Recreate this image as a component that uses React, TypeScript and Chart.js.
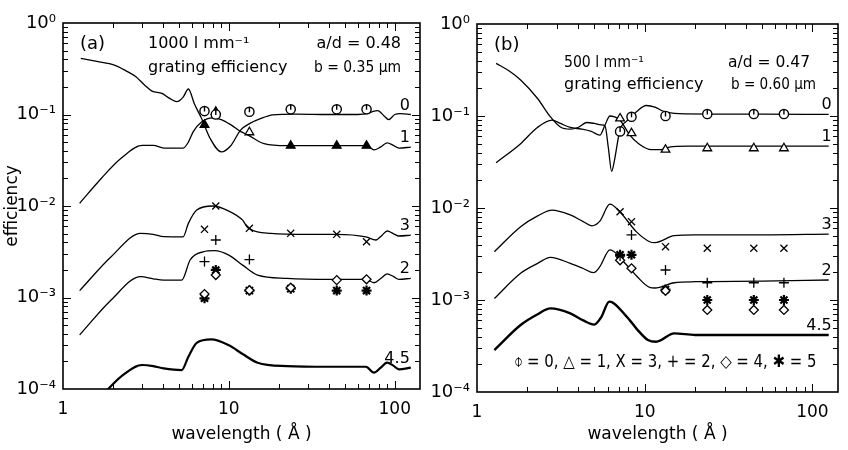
import React, { useEffect, useRef } from 'react';
import { Chart, registerables } from 'chart.js';

Chart.register(...registerables);

const FONT = "'DejaVu Sans', 'Liberation Sans', sans-serif";

// ---------- shared axis data ----------
const xTickValues = [1, 10, 100];
const xTickLabels = ['1', '10', '100'];
const yTickValues = [1e-4, 1e-3, 1e-2, 1e-1, 1];
const yTickLabels = ['10⁻⁴', '10⁻³', '10⁻²', '10⁻¹', '10⁰'];
const xTitle = 'wavelength ( Å )';
const yTitle = 'efficiency';

// wavelengths (Å) of the measured X-ray lines
const lineWavelengths = [7.13, 8.34, 13.3, 23.6, 44.7, 67.6];
const curveLabels = ['0', '1', '3', '2', '4.5'];

// ---------- panel (a): 1000 l/mm ----------
const aHeaderTexts = ['(a)', '1000 l mm⁻¹', 'a/d = 0.48', 'grating efficiency', 'b = 0.35 μm'];

const a0Lam = [1.28, 1.6, 2.04, 2.4, 2.74, 3.1, 3.44, 3.95, 4.4, 4.86, 5.3, 5.7, 6.2, 6.84, 7.7, 9.0, 10.2, 11.8, 13.4, 15.5, 18.4, 25, 40, 60, 68, 74, 79, 86, 92, 100, 108, 125];
const a0Eff = [0.41, 0.38, 0.347, 0.3, 0.26, 0.21, 0.18, 0.17, 0.15, 0.138, 0.155, 0.19, 0.13, 0.091, 0.055, 0.039, 0.045, 0.068, 0.08, 0.09, 0.099, 0.101, 0.1, 0.1, 0.102, 0.108, 0.11, 0.097, 0.088, 0.1, 0.102, 0.1];
const a1Lam = [1.26, 1.7, 2.23, 3.0, 3.5, 4.05, 5.3, 5.7, 6.1, 6.84, 8.0, 9.0, 10.3, 11.8, 13, 16.3, 22.4, 40, 68, 75, 82, 90, 98, 106, 125];
const a1Eff = [0.0107, 0.02, 0.033, 0.046, 0.046, 0.043, 0.043, 0.05, 0.065, 0.083, 0.092, 0.088, 0.077, 0.065, 0.06, 0.048, 0.0456, 0.0456, 0.0456, 0.041, 0.044, 0.049, 0.046, 0.043, 0.044];
const a3Lam = [1.26, 1.95, 2.94, 3.5, 4.05, 5.3, 5.7, 6.4, 8.0, 10, 12.1, 13, 17.9, 30, 44.5, 67, 77, 84, 90, 98, 106, 125];
const a3Eff = [0.00119, 0.00279, 0.00503, 0.0049, 0.00462, 0.0046, 0.00646, 0.00904, 0.01, 0.0088, 0.0070, 0.0058, 0.00503, 0.0049, 0.0049, 0.0046, 0.00425, 0.0048, 0.00533, 0.005, 0.0047, 0.0048];
const a2Lam = [1.26, 1.95, 2.94, 3.5, 4.05, 5.2, 5.84, 7.0, 8.2, 10, 12.1, 14.9, 22.4, 40, 67, 75, 82, 90, 98, 106, 125];
const a2Eff = [0.00039, 0.00094, 0.00169, 0.0016, 0.00155, 0.00155, 0.00257, 0.00316, 0.00325, 0.0029, 0.00226, 0.00176, 0.00162, 0.00158, 0.00158, 0.00145, 0.0016, 0.00181, 0.0017, 0.00158, 0.00162];
const a45Lam = [1.75, 2.23, 3.0, 3.5, 4.05, 5.2, 5.7, 6.4, 7.85, 10, 12.1, 14.9, 22.4, 40, 67, 75, 82, 90, 98, 106, 125];
const a45Eff = [0.000088, 0.000136, 0.000183, 0.000178, 0.000168, 0.000161, 0.000225, 0.00032, 0.000349, 0.0003, 0.000241, 0.000194, 0.000178, 0.000175, 0.000175, 0.000151, 0.00017, 0.000194, 0.00018, 0.000164, 0.000171];

const aMeas0 = [0.109, 0.1, 0.107, 0.114, 0.114, 0.114];
const aMeas1 = [0.077, 0.107, 0.064, 0.0456, 0.0456, 0.0456];
const aMeas3 = [0.00556, 0.01, 0.0057, 0.00503, 0.0049, 0.00407];
const aMeas2 = [0.00247, 0.00425, 0.0026, null, null, null];
const aMeas4 = [0.00109, 0.00176, 0.0012, 0.00128, 0.00155, 0.00158];
const aMeas5 = [0.00098, 0.002, 0.00119, 0.00125, 0.00119, 0.00119];

// ---------- panel (b): 500 l/mm ----------
const bHeaderTexts = ['(b)', '500 l mm⁻¹', 'a/d = 0.47', 'grating efficiency', 'b = 0.60 μm'];
const bLegendText = '⌽ = 0, △ = 1, X = 3, + = 2, ◇ = 4, ✱ = 5';

const b0Lam = [1.3, 1.55, 1.82, 2.29, 2.74, 3.14, 3.6, 4.0, 4.5, 5.0, 5.5, 5.8, 6.07, 6.35, 6.6, 7.11, 7.8, 8.93, 10.2, 11.5, 13, 16, 25, 50, 125];
const b0Eff = [0.373, 0.31, 0.246, 0.156, 0.098, 0.076, 0.072, 0.075, 0.085, 0.083, 0.08, 0.078, 0.045, 0.025, 0.033, 0.07, 0.088, 0.111, 0.13, 0.125, 0.112, 0.106, 0.105, 0.105, 0.104];
const b1Lam = [1.3, 1.82, 2.29, 2.8, 3.14, 3.6, 4.2, 4.8, 5.4, 5.8, 6.2, 6.6, 7.13, 8.15, 9.2, 10.96, 12.5, 14, 18, 40, 125];
const b1Eff = [0.031, 0.05, 0.075, 0.09, 0.083, 0.075, 0.072, 0.068, 0.062, 0.08, 0.1, 0.098, 0.09, 0.062, 0.05, 0.043, 0.043, 0.046, 0.047, 0.047, 0.047];
const b3Lam = [1.27, 1.82, 2.3, 2.8, 3.6, 4.3, 4.84, 5.4, 6.2, 7.1, 8.93, 10.7, 11.5, 15, 20, 50, 125];
const b3Eff = [0.00335, 0.00626, 0.0082, 0.0095, 0.0084, 0.0071, 0.0064, 0.0072, 0.011, 0.0091, 0.0055, 0.0043, 0.0042, 0.005, 0.0051, 0.0051, 0.0052];
const b2Lam = [1.27, 1.82, 2.3, 2.74, 3.6, 4.3, 4.95, 5.4, 6.2, 7.8, 9.0, 10.7, 11.5, 15, 20, 50, 125];
const b2Eff = [0.00104, 0.00195, 0.0025, 0.00291, 0.0025, 0.0022, 0.00198, 0.0023, 0.0035, 0.0024, 0.0018, 0.00137, 0.00135, 0.00154, 0.00158, 0.0016, 0.00165];
const b45Lam = [1.27, 1.82, 2.3, 2.74, 3.6, 4.3, 5.0, 5.5, 6.15, 7.8, 9.0, 10.45, 11.7, 15, 20, 50, 125];
const b45Eff = [0.000286, 0.000535, 0.0007, 0.00081, 0.000716, 0.0006, 0.00054, 0.00065, 0.00096, 0.00066, 0.00048, 0.000367, 0.000352, 0.000434, 0.000417, 0.000417, 0.000417];

const bMeas0 = [0.068, 0.098, 0.1, 0.105, 0.105, 0.105];
const bMeas1 = [0.094, 0.065, 0.043, 0.0446, 0.0446, 0.0446];
const bMeas3 = [0.0091, 0.0071, 0.0038, 0.00365, 0.00365, 0.00365];
const bMeas2 = [0.003, 0.0051, 0.00212, 0.00154, 0.00154, 0.00154];
const bMeas4 = [0.0027, 0.00221, 0.00126, 0.00078, 0.00078, 0.00078];
const bMeas5 = [0.0031, 0.0031, 0.0013, 0.001, 0.001, 0.001];

// ---------- styles ----------
const aTriangleFill = ['#000', '#000', '#fff', '#000', '#000', '#000'];
const bTriangleFill = ['#fff', '#fff', '#fff', '#fff', '#fff', '#fff'];

type TextLayout = { dx: number; dy: number; from: 'left' | 'right'; align: CanvasTextAlign; size: number; w?: number };

const aHeaderLayout: TextLayout[] = [
  { dx: 17, dy: 21, from: 'left', align: 'left', size: 18 },
  { dx: 85, dy: 21, from: 'left', align: 'left', size: 16, w: 109 },
  { dx: -19, dy: 21, from: 'right', align: 'right', size: 16, w: 85 },
  { dx: 85, dy: 45, from: 'left', align: 'left', size: 16, w: 150 },
  { dx: -19, dy: 45, from: 'right', align: 'right', size: 16, w: 87 },
];
const bHeaderLayout: TextLayout[] = [
  { dx: 17, dy: 21, from: 'left', align: 'left', size: 18 },
  { dx: 87, dy: 39, from: 'left', align: 'left', size: 16, w: 80 },
  { dx: -28, dy: 39, from: 'right', align: 'right', size: 16, w: 82 },
  { dx: 87, dy: 61, from: 'left', align: 'left', size: 16, w: 150 },
  { dx: -22, dy: 61, from: 'right', align: 'right', size: 16, w: 85 },
];

function zip(lam: number[], eff: (number | null)[]) {
  return lam.map((x, i) => ({ x, y: eff[i] }));
}

function labelFor(vals: number[], labels: string[]) {
  return (v: any) => {
    const n = Number(v);
    const i = vals.findIndex((t) => Math.abs(Math.log10(t) - Math.log10(n)) < 1e-6);
    return i >= 0 ? labels[i] : '';
  };
}

type PanelDef = {
  curves: { lam: number[]; eff: number[]; label: string; width: number }[];
  meas: (number | null)[][];
  triFill: string[];
  header: string[];
  headerLayout: TextLayout[];
  legend?: string;
  padTop: number;
  padRight: number;
  yWidth: number;
  xHeight: number;
  showYTitle: boolean;
  labelDx: number;
};

function makeDecor(p: PanelDef) {
  return {
    id: 'decor',
    afterDraw(chart: any) {
      const { ctx, chartArea: ca, scales } = chart;
      const xs = scales.x;
      const ys = scales.y;
      ctx.save();
      ctx.strokeStyle = '#000';

      // stile inside the order-0 circle markers
      ctx.lineWidth = 1.4;
      ctx.beginPath();
      chart.data.datasets.forEach((ds: any, i: number) => {
        if (!ds.circleTick) return;
        chart.getDatasetMeta(i).data.forEach((pt: any) => {
          if (pt.skip || !isFinite(pt.y)) return;
          ctx.moveTo(pt.x, pt.y - 4.5);
          ctx.lineTo(pt.x, pt.y + 0.5);
        });
      });
      ctx.stroke();

      ctx.lineWidth = 1;
      ctx.beginPath();
      for (let e = 0; e <= 2; e++) {
        for (let m = 1; m <= 9; m++) {
          const v = m * Math.pow(10, e);
          if (v <= xs.min * 1.0001 || v >= xs.max) continue;
          const px = Math.round(xs.getPixelForValue(v)) + 0.5;
          const len = m === 1 ? 8 : 5;
          ctx.moveTo(px, ca.bottom);
          ctx.lineTo(px, ca.bottom - len);
          ctx.moveTo(px, ca.top);
          ctx.lineTo(px, ca.top + len);
        }
      }
      for (let e = -4; e < 0; e++) {
        for (let m = 1; m <= 9; m++) {
          const v = m * Math.pow(10, e);
          if (v <= ys.min * 1.0001 || v >= ys.max) continue;
          const py = Math.round(ys.getPixelForValue(v)) + 0.5;
          const len = m === 1 ? 8 : 5;
          ctx.moveTo(ca.left, py);
          ctx.lineTo(ca.left + len, py);
          ctx.moveTo(ca.right, py);
          ctx.lineTo(ca.right - len, py);
        }
      }
      ctx.stroke();
      ctx.lineWidth = 1.6;
      ctx.strokeRect(ca.left, ca.top, ca.right - ca.left, ca.bottom - ca.top);

      // header texts
      ctx.fillStyle = '#000';
      ctx.textBaseline = 'middle';
      p.header.forEach((t, i) => {
        const L = p.headerLayout[i];
        ctx.font = `${L.size}px ${FONT}`;
        ctx.textAlign = L.align;
        const x = (L.from === 'left' ? ca.left : ca.right) + L.dx;
        const y = ca.top + L.dy;
        if (L.w) ctx.fillText(t, x, y, L.w);
        else ctx.fillText(t, x, y);
      });

      // curve labels at the right-hand end of each curve
      ctx.font = `16px ${FONT}`;
      ctx.textAlign = 'right';
      ctx.textBaseline = 'alphabetic';
      chart.data.datasets.forEach((ds: any, i: number) => {
        if (!ds.curveLabel) return;
        const meta = chart.getDatasetMeta(i);
        const last = meta.data[meta.data.length - 1];
        if (!last) return;
        ctx.fillText(ds.curveLabel, last.x + p.labelDx, last.y - 5);
      });

      if (p.legend) {
        ctx.font = `17px ${FONT}`;
        ctx.textAlign = 'center';
        ctx.textBaseline = 'middle';
        ctx.fillText(p.legend, ca.left + 188, ca.top + 339, 303);
      }
      ctx.restore();
    },
  };
}

function buildConfig(p: PanelDef): any {
  const datasets: any[] = [];
  const markerStyles: any[] = [
    { style: 'circle', radius: 4.6, fill: '#fff', bw: 1.4, tick: true },
    { style: 'triangle', radius: 5, fill: p.triFill, bw: 1.3 },
    { style: 'crossRot', radius: 5, fill: '#000', bw: 1.3 },
    { style: 'cross', radius: 5, fill: '#000', bw: 1.3 },
    { style: 'rectRot', radius: 4.5, fill: '#fff', bw: 1.3 },
    { style: 'star', radius: 5, fill: '#000', bw: 2.2 },
  ];
  p.meas.forEach((vals, k) => {
    const s = markerStyles[k];
    datasets.push({
      type: 'line',
      data: zip(lineWavelengths, vals),
      showLine: false,
      pointStyle: s.style,
      pointRadius: s.radius,
      pointBorderColor: '#000',
      pointBackgroundColor: s.fill,
      pointBorderWidth: s.bw,
      borderColor: '#000',
      backgroundColor: s.fill,
      circleTick: !!s.tick,
      order: 0,
    });
  });
  p.curves.forEach((c) => {
    datasets.push({
      type: 'line',
      data: zip(c.lam, c.eff),
      borderColor: '#000',
      borderWidth: c.width,
      pointRadius: 0,
      fill: false,
      cubicInterpolationMode: 'monotone',
      curveLabel: c.label,
      order: 1,
    });
  });

  return {
    type: 'line',
    data: { datasets },
    options: {
      responsive: false,
      animation: false,
      devicePixelRatio: 1,
      events: [],
      layout: { padding: { top: p.padTop, right: p.padRight, left: 0, bottom: 0 } },
      plugins: { legend: { display: false }, tooltip: { enabled: false } },
      scales: {
        x: {
          type: 'logarithmic',
          min: 1,
          max: 142,
          grid: { display: false, drawTicks: false },
          border: { display: false },
          ticks: {
            autoSkip: false,
            maxRotation: 0,
            padding: 10,
            color: '#000',
            font: { family: FONT, size: 17 },
            callback: labelFor(xTickValues, xTickLabels),
          },
          title: {
            display: true,
            text: xTitle,
            color: '#000',
            font: { family: FONT, size: 17 },
            padding: { top: 0, bottom: 5 },
          },
          afterFit: (s: any) => {
            s.height = p.xHeight;
          },
        },
        y: {
          type: 'logarithmic',
          min: 1e-4,
          max: 1,
          grid: { display: false, drawTicks: false },
          border: { display: false },
          ticks: {
            autoSkip: false,
            padding: 7,
            color: '#000',
            font: { family: FONT, size: 18 },
            callback: labelFor(yTickValues, yTickLabels),
          },
          title: {
            display: p.showYTitle,
            text: yTitle,
            color: '#000',
            font: { family: FONT, size: 17 },
            padding: { top: 2, bottom: 0 },
          },
          afterFit: (s: any) => {
            s.width = p.yWidth;
          },
        },
      },
    },
    plugins: [makeDecor(p)],
  };
}

const panelA: PanelDef = {
  curves: [
    { lam: a0Lam, eff: a0Eff, label: curveLabels[0], width: 1.3 },
    { lam: a1Lam, eff: a1Eff, label: curveLabels[1], width: 1.3 },
    { lam: a3Lam, eff: a3Eff, label: curveLabels[2], width: 1.3 },
    { lam: a2Lam, eff: a2Eff, label: curveLabels[3], width: 1.3 },
    { lam: a45Lam, eff: a45Eff, label: curveLabels[4], width: 2.2 },
  ],
  meas: [aMeas0, aMeas1, aMeas3, aMeas2, aMeas4, aMeas5],
  triFill: aTriangleFill,
  header: aHeaderTexts,
  headerLayout: aHeaderLayout,
  padTop: 23,
  padRight: 6,
  yWidth: 63,
  xHeight: 61,
  showYTitle: true,
  labelDx: -1,
};

const panelB: PanelDef = {
  curves: [
    { lam: b0Lam, eff: b0Eff, label: curveLabels[0], width: 1.3 },
    { lam: b1Lam, eff: b1Eff, label: curveLabels[1], width: 1.3 },
    { lam: b3Lam, eff: b3Eff, label: curveLabels[2], width: 1.3 },
    { lam: b2Lam, eff: b2Eff, label: curveLabels[3], width: 1.3 },
    { lam: b45Lam, eff: b45Eff, label: curveLabels[4], width: 2.4 },
  ],
  meas: [bMeas0, bMeas1, bMeas3, bMeas2, bMeas4, bMeas5],
  triFill: bTriangleFill,
  header: bHeaderTexts,
  headerLayout: bHeaderLayout,
  legend: bLegendText,
  padTop: 24,
  padRight: 8,
  yWidth: 53,
  xHeight: 58,
  showYTitle: false,
  labelDx: 3,
};

function Panel({ def, left, width }: { def: PanelDef; left: number; width: number }) {
  const ref = useRef<HTMLCanvasElement>(null);
  useEffect(() => {
    const chart = new Chart(ref.current as HTMLCanvasElement, buildConfig(def));
    return () => chart.destroy();
  }, [def]);
  return (
    <canvas
      ref={ref}
      width={width}
      height={450}
      style={{ position: 'absolute', left, top: 0, width, height: 450 }}
    />
  );
}

export default function App() {
  return (
    <div style={{ position: 'fixed', left: 0, top: 0, width: 848, height: 450, background: '#fff', overflow: 'hidden' }}>
      <Panel def={panelA} left={0} width={430} />
      <Panel def={panelB} left={424} width={424} />
    </div>
  );
}
